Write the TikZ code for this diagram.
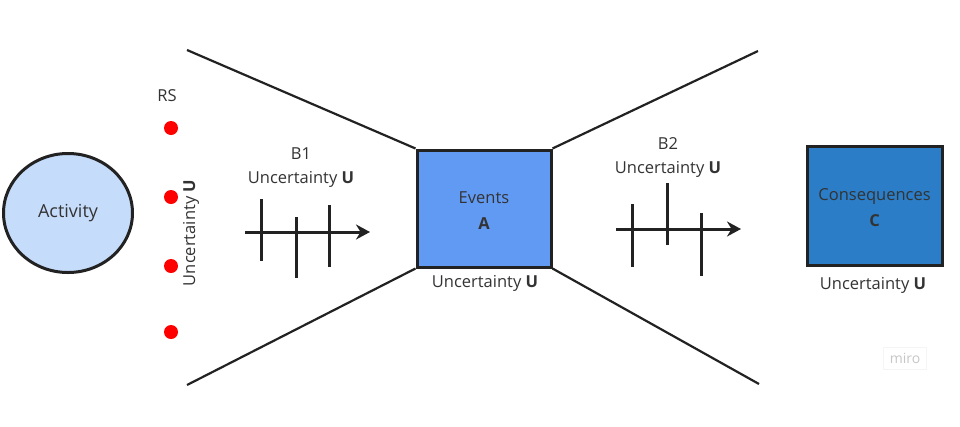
\documentclass[tikz,border=0pt]{standalone}
\usepackage{fontspec}
\setmainfont{Open Sans}
\usetikzlibrary{shapes.geometric,arrows.meta}
\definecolor{inkgray}{HTML}{333333}
\definecolor{linegray}{HTML}{222222}
\definecolor{actfill}{HTML}{C6DCFB}
\definecolor{evfill}{HTML}{619AF3}
\definecolor{cofill}{HTML}{2A7DC6}
\tikzstyle{box}=[rectangle,inner sep=0pt,line width=3pt,draw=linegray,text=inkgray,align=center,font=\fontsize{16.5}{26}\selectfont]
\tikzstyle{annot}=[align=center,text=inkgray,inner sep=0pt,font=\fontsize{16.5}{24}\selectfont]
\tikzstyle{riskdot}=[circle,fill=red,minimum size=14pt,inner sep=0pt]
\tikzstyle{funnel}=[line width=2.2pt,draw=linegray]
\tikzstyle{barrier}=[line width=3pt,draw=linegray,-{Stealth[length=14pt,width=15pt]}]
\tikzstyle{tick}=[line width=3pt,draw=linegray]
\newcommand{\drawbarrier}[4]
{
  % axis from #1, ticks at x offsets with y spans
  \coordinate (#1s) at (#2,#3);
  \coordinate (#1e) at (#2+125,#3);
  \draw[barrier] (#1s) -- (#1e);
  \foreach \dx/\ya/\yb in {#4}
    \draw[tick] (#2+\dx,\ya) -- (#2+\dx,\yb);
}

\begin{document}
\begin{tikzpicture}[x=1pt,y=-1pt]
	\useasboundingbox (0,0) rectangle (960,426);

	\node[box, ellipse, minimum width=129pt, minimum height=119pt, fill=actfill, font=\fontsize{18}{22}\selectfont](activity) at (68,213){Activity};
	\node[box, minimum width=134pt, minimum height=117pt, fill=evfill](events) at (484,208.5){};
	\node[text=inkgray, align=center, font=\fontsize{16.5}{26}\selectfont](evtext) at (484,211){Events\\\textbf{A}};
	\node[box, minimum width=135pt, minimum height=119pt, fill=cofill](cons) at (874.5,205.5){};
	\node[text=inkgray, align=center, font=\fontsize{16.5}{26}\selectfont](cotext) at (874.5,207.5){Consequences\\\textbf{C}};

	\node[annot](rs) at (167,96){RS};
	\node[riskdot](rs1) at (171,128){};
	\node[riskdot](rs2) at (171,197){};
	\node[riskdot](rs3) at (171,266){};
	\node[riskdot](rs4) at (171,332){};
	\node[annot, rotate=90](urs) at (191,233){Uncertainty \textbf{U}};

	% bow-tie wings
	\coordinate (wtl) at (187,50);
	\coordinate (wbl) at (187,385);
	\coordinate (wtr) at (758,51);
	\coordinate (wbr) at (759,384);
	\draw[funnel] (wtl) -- (events.north west);
	\draw[funnel] (wbl) -- (events.south west);
	\draw[funnel] (events.north east) -- (wtr);
	\draw[funnel] (events.south east) -- (wbr);

	\node[annot](b1) at (301,168){B1\\Uncertainty \textbf{U}};
	\drawbarrier{bone}{245}{232}{16/199/261, 51/217/278, 84/205/267}
	\node[annot](b2) at (668,158){B2\\Uncertainty \textbf{U}};
	\drawbarrier{btwo}{616}{229}{16/204/267, 51/183/245, 85/213/276}

	\node[annot](uev) at (485,283){Uncertainty \textbf{U}};
	\node[annot](ucons) at (873,285){Uncertainty \textbf{U}};

	\node[draw=gray!8, line width=0.6pt, text=gray!45, font=\fontsize{14}{16}\selectfont, minimum width=43pt, minimum height=22pt](miro) at (905,358){miro};
\end{tikzpicture}
\end{document}
